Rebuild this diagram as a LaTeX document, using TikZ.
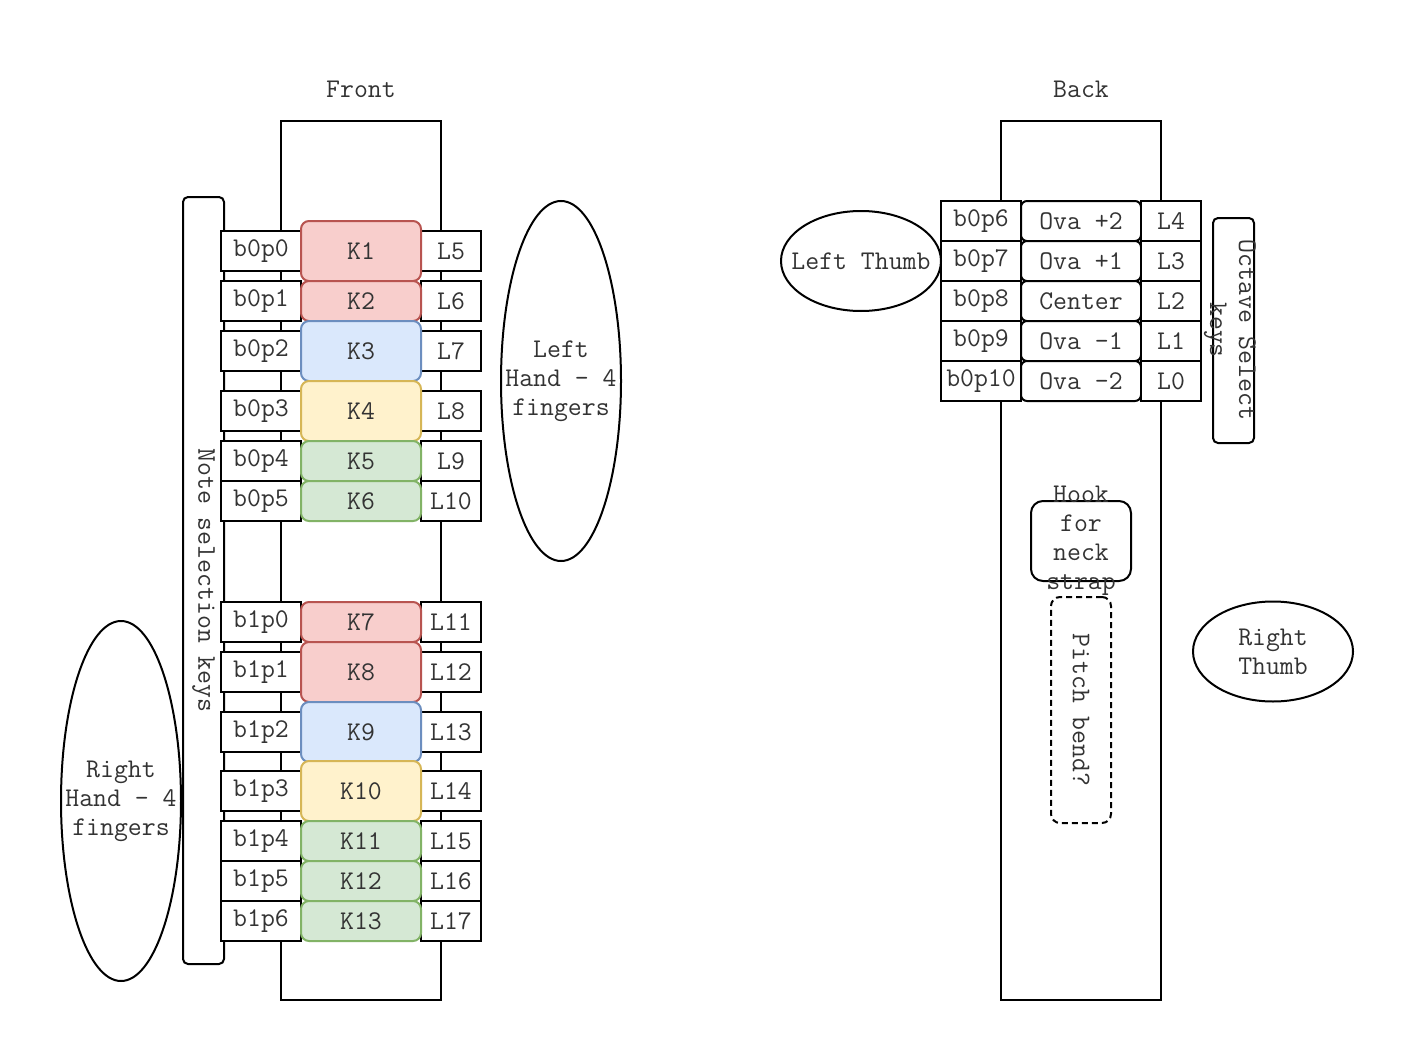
\documentclass[tikz,border=0pt]{standalone}
\usepackage{fontspec}
\usetikzlibrary{shapes.geometric}
\definecolor{redF}{HTML}{F8CECC}\definecolor{redS}{HTML}{B85450}
\definecolor{bluF}{HTML}{DAE8FC}\definecolor{bluS}{HTML}{6C8EBF}
\definecolor{yelF}{HTML}{FFF2CC}\definecolor{yelS}{HTML}{D6B656}
\definecolor{grnF}{HTML}{D5E8D4}\definecolor{grnS}{HTML}{82B366}
\definecolor{txt}{HTML}{333333}
\tikzset{
  lbl/.style={font=\ttfamily\fontsize{27}{29}\selectfont, text=txt, inner sep=0pt},
  base/.style={lbl, draw=black, line width=2pt, fill=white, rectangle},
  pbox/.style={base, minimum width=60pt, minimum height=40pt},
  wbox/.style={base, minimum width=80pt, minimum height=40pt},
  kbox/.style={base, rounded corners=8pt, minimum width=120pt},
  obox/.style={base, rounded corners=6pt, minimum width=120pt, minimum height=40pt},
  kred/.style={kbox, fill=redF, draw=redS},
  kblu/.style={kbox, fill=bluF, draw=bluS},
  kyel/.style={kbox, fill=yelF, draw=yelS},
  kgrn/.style={kbox, fill=grnF, draw=grnS},
  oval/.style={draw=black, line width=2pt, ellipse, inner sep=0pt},
  panel/.style={draw=black, line width=2pt, rectangle, inner sep=0pt},
}
\begin{document}
\begin{tikzpicture}[x=1pt,y=-1pt]
\useasboundingbox (0,0) rectangle (1416,1062);
\fill[white] (0,0) rectangle (1416,1062);
% titles
\node[lbl] (front) at (361,89) {Front};
\node[lbl] (back) at (1081,89) {Back};
% panels
\node[panel, minimum width=160pt, minimum height=879pt] (fp) at (361,560.5) {};
\node[panel, minimum width=160pt, minimum height=879pt] (bp) at (1081,560.5) {};
% note selection keys
\node[panel, rounded corners=5pt, minimum width=41pt, minimum height=767pt] (nsk) at (203.5,580.5) {};
\node[lbl, rotate=-90] (nskt) at (nsk) {Note selection keys};
% hands
\node[oval, minimum width=120pt, minimum height=360pt] (lh) at (561,381) {};
\node[lbl, align=center] (lht) at (lh) {Left\\Hand - 4\\fingers};
\node[oval, minimum width=120pt, minimum height=360pt] (rh) at (121,801) {};
\node[lbl, align=center] (rht) at (rh) {Right\\Hand - 4\\fingers};
% front rows
\foreach \n/\y in {b0p0/251,b0p1/301,b0p2/351,b0p3/411,b0p4/461,b0p5/501,
                   b1p0/622,b1p1/672,b1p2/732,b1p3/791,b1p4/841,b1p5/881,b1p6/921}
  \node[wbox] (\n) at (261,\y) {\n};
\foreach \n/\y in {L5/251,L6/301,L7/351,L8/411,L9/461,L10/501,
                   L11/622,L12/672,L13/732,L14/791,L15/841,L16/881,L17/921}
  \node[pbox] (\n) at (451,\y) {\n};
\node[kred, minimum height=60pt] (K1) at (361,251) {K1};
\node[kred, minimum height=40pt] (K2) at (361,301) {K2};
\node[kblu, minimum height=60pt] (K3) at (361,351) {K3};
\node[kyel, minimum height=60pt] (K4) at (361,411) {K4};
\node[kgrn, minimum height=40pt] (K5) at (361,461) {K5};
\node[kgrn, minimum height=40pt] (K6) at (361,501) {K6};
\node[kred, minimum height=40pt] (K7) at (361,622) {K7};
\node[kred, minimum height=60pt] (K8) at (361,672) {K8};
\node[kblu, minimum height=60pt] (K9) at (361,732) {K9};
\node[kyel, minimum height=60pt] (K10) at (361,791) {K10};
\node[kgrn, minimum height=40pt] (K11) at (361,841) {K11};
\node[kgrn, minimum height=40pt] (K12) at (361,881) {K12};
\node[kgrn, minimum height=40pt] (K13) at (361,921) {K13};
% back rows
\foreach \n/\y in {b0p6/221,b0p7/261,b0p8/301,b0p9/341,b0p10/381}
  \node[wbox] (\n) at (981,\y) {\n};
\node[obox] (o2) at (1081,221) {Ova +2};
\node[obox] (o1) at (1081,261) {Ova +1};
\node[obox] (oc) at (1081,301) {Center};
\node[obox] (om1) at (1081,341) {Ova -1};
\node[obox] (om2) at (1081,381) {Ova -2};
\foreach \n/\y in {L4/221,L3/261,L2/301,L1/341,L0/381}
  \node[pbox] (\n) at (1171,\y) {\n};
% octave select keys
\node[panel, rounded corners=5pt, minimum width=41pt, minimum height=225pt] (osk) at (1233.5,330.5) {};
\node[lbl, rotate=-90, align=center] (oskt) at (1230,330) {Octave Select\\keys};
% thumbs
\node[oval, minimum width=160pt, minimum height=100pt] (lt) at (861,261) {};
\node[lbl] (ltt) at (lt) {Left Thumb};
\node[oval, minimum width=160pt, minimum height=100pt] (rt) at (1273,651.5) {};
\node[lbl, align=center] (rtt) at (rt) {Right\\Thumb};
% hook
\node[panel, rounded corners=12pt, fill=white, minimum width=100pt, minimum height=80pt] (hook) at (1081,541) {};
\node[lbl, align=center] (hookt) at (hook) {Hook\\for\\neck\\strap};
% pitch bend
\node[panel, dashed, dash pattern=on 6pt off 4pt, rounded corners=9pt, minimum width=60pt, minimum height=226pt] (pb) at (1081,710) {};
\node[lbl, rotate=-90] (pbt) at (pb) {Pitch bend?};
\end{tikzpicture}
\end{document}
